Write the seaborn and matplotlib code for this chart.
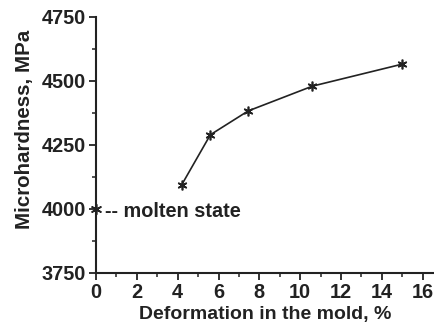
import matplotlib
matplotlib.use("Agg")
import matplotlib.pyplot as plt
import seaborn as sns
import pandas as pd
from matplotlib.ticker import MultipleLocator

deformation = [4.2, 5.6, 7.45, 10.6, 15.0]
microhardness = [4095, 4290, 4383, 4480, 4566]
molten_x = [0]
molten_y = [4000]

sns.set_style("ticks")
plt.rcParams['font.family'] = ['Liberation Sans', 'DejaVu Sans']
plt.rcParams['font.weight'] = 'bold'

fig = plt.figure(figsize=(4.35, 3.26), dpi=100)
ax = fig.add_axes([96/435, 53/326, 338/435, 256/326])

df = pd.DataFrame({"x": deformation, "y": microhardness})
sns.lineplot(data=df, x="x", y="y", ax=ax, color="#222222", linewidth=1.2,
             marker=(6, 2, 0), markersize=7, markeredgewidth=1.2,
             markeredgecolor="#222222")
dm = pd.DataFrame({"x": molten_x, "y": molten_y})
sns.scatterplot(data=dm, x="x", y="y", ax=ax, marker=(6, 2, 0), s=50,
                color="#222222", linewidth=1.2, edgecolor="#222222", clip_on=False, zorder=5)
ax.text(0.45, 3990, "-- molten state", fontsize=14.3, fontweight="bold",
        va="center", ha="left", color="#222222")

ax.set_xlim(0, 16.55)
ax.set_ylim(3750, 4750)
ax.xaxis.set_major_locator(MultipleLocator(2))
ax.xaxis.set_minor_locator(MultipleLocator(1))
ax.yaxis.set_major_locator(MultipleLocator(250))
ax.yaxis.set_minor_locator(MultipleLocator(125))
ax.tick_params(axis="both", which="major", direction="out", length=5, width=1.3,
               labelsize=14.3, pad=2, color="#222222", labelcolor="#222222")
ax.tick_params(axis="both", which="minor", direction="out", length=3, width=1.1,
               color="#222222")
for lab in ax.get_xticklabels() + ax.get_yticklabels():
    lab.set_fontweight("bold")
ax.set_xlabel("Deformation in the mold, %", fontsize=14, fontweight="bold",
              color="#222222", labelpad=3)
ax.set_ylabel("Microhardness, MPa", fontsize=14.8, fontweight="bold",
              color="#222222")
ax.yaxis.set_label_coords(-0.183, 0.5625)
for s in ["top", "right"]:
    ax.spines[s].set_visible(False)
for s in ["left", "bottom"]:
    ax.spines[s].set_linewidth(1.5)
    ax.spines[s].set_color("#222222")

fig.savefig("out.png", dpi=100)
